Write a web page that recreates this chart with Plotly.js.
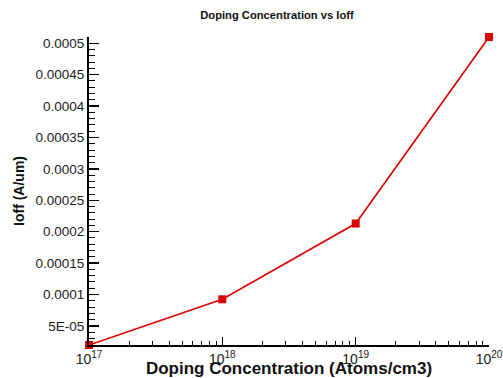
<!DOCTYPE html>
<html>
<head>
<meta charset="utf-8">
<script src="https://cdn.plot.ly/plotly-3.0.1.min.js"></script>
<style>html,body{margin:0;padding:0;background:#fff;}#chart{width:503px;height:378px;}</style>
</head>
<body>
<div id="chart"></div>
<script>
const dopingConc = [1e17, 1e18, 1e19, 1e20];
const ioff = [0.0000196, 0.0000924, 0.000213, 0.000510];
const xTickVals = [1e17, 1e18, 1e19, 1e20];
const xTickExponents = ['17', '18', '19', '20'];
const xMinorMultipliers = [2, 3, 4, 5, 6, 7, 8, 9];
const yTickVals = [0.00005, 0.0001, 0.00015, 0.0002, 0.00025, 0.0003, 0.00035, 0.0004, 0.00045, 0.0005];
const yTickText = ['5E-05', '0.0001', '0.00015', '0.0002', '0.00025', '0.0003', '0.00035', '0.0004', '0.00045', '0.0005'];
const chartTitle = 'Doping Concentration vs Ioff';
const xTitle = 'Doping Concentration (Atoms/cm3)';
const yTitle = 'Ioff (A/um)';

const xTickText = xTickExponents.map(e => '<span style="font-size:14px">10</span><sup><span style="font-size:10px">' + e + '</span></sup>');
const xMinorVals = [];
xTickVals.slice(0, -1).forEach(d => xMinorMultipliers.forEach(m => xMinorVals.push(d * m)));

const red = '#dd0000';
const trace = {
  x: dopingConc, y: ioff, type: 'scatter', mode: 'lines+markers',
  line: {color: red, width: 1.6},
  marker: {symbol: 'square', size: 8, color: red},
  cliponaxis: false
};
const layout = {
  width: 503, height: 378,
  margin: {l: 89, r: 14, t: 37, b: 33},
  paper_bgcolor: '#fff', plot_bgcolor: '#fff',
  showlegend: false,
  font: {family: 'Liberation Sans, Arial, sans-serif', color: '#222'},
  title: {text: '<b>' + chartTitle + '</b>', font: {size: 11.2, color: '#111'},
          x: 277/503, xref: 'container', xanchor: 'center', y: 1 - 15/378, yref: 'container', yanchor: 'middle'},
  xaxis: {
    type: 'log', range: [17, 20], tickmode: 'array', tickvals: xTickVals, ticktext: xTickText,
    ticklabeloverflow: 'allow',
    showgrid: false, zeroline: false, showline: true, linecolor: '#000', linewidth: 2,
    ticks: 'inside', ticklen: 8, tickwidth: 1.5, tickcolor: '#000',
    minor: {ticks: 'inside', ticklen: 4, tickwidth: 1, tickcolor: '#000', tickmode: 'array', tickvals: xMinorVals, showgrid: false},
    tickfont: {size: 14, color: '#222'},
    title: {text: '<b>' + xTitle + '</b>', font: {size: 17, color: '#111'}, standoff: 0},
    automargin: false
  },
  yaxis: {
    range: [0.0000196, 0.000510], autorange: false,
    tickmode: 'array', tickvals: yTickVals, ticktext: yTickText,
    showgrid: false, zeroline: false, showline: true, linecolor: '#000', linewidth: 2,
    ticks: 'inside', ticklen: 10, tickwidth: 1.5, tickcolor: '#000',
    minor: {ticks: 'inside', ticklen: 6, tickwidth: 1, tickcolor: '#000', tickmode: 'linear', tick0: 0, dtick: 0.00001, showgrid: false},
    tickfont: {size: 13.5, color: '#222'},
    title: {text: '<b>' + yTitle + '</b>', font: {size: 14, color: '#111'}, standoff: 8},
    automargin: false
  }
};
Plotly.newPlot('chart', [trace], layout, {displayModeBar: false, staticPlot: true});
</script>
</body>
</html>
